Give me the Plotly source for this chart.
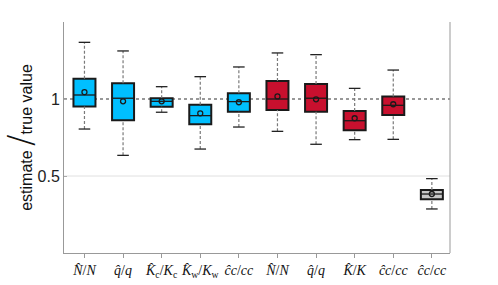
import plotly.graph_objects as go

labels = ["<i>N̂</i>/<i>N</i>", "<i>q̂</i>/<i>q</i>", "<i>K̂</i><sub>c</sub>/<i>K</i><sub>c</sub>",
          "<i>K̂</i><sub>w</sub>/<i>K</i><sub>w</sub>", "<i>ĉc</i>/<i>cc</i>",
          "<i>N̂</i>/<i>N</i>", "<i>q̂</i>/<i>q</i>", "<i>K̂</i>/<i>K</i>", "<i>ĉc</i>/<i>cc</i>", "<i>ĉc</i>/<i>cc</i>"]
positions = [1, 2, 3, 4, 5, 6, 7, 8, 9, 10]
whisk_lo = [0.805, 0.634, 0.914, 0.675, 0.818, 0.790, 0.706, 0.736, 0.738, 0.286]
q1 =       [0.952, 0.862, 0.950, 0.836, 0.918, 0.929, 0.918, 0.797, 0.896, 0.349]
median =   [1.026, 1.005, 0.985, 0.892, 0.983, 1.000, 1.005, 0.859, 0.959, 0.383]
q3 =       [1.132, 1.102, 1.005, 0.963, 1.037, 1.117, 1.097, 0.922, 1.017, 0.409]
whisk_hi = [1.368, 1.312, 1.080, 1.145, 1.208, 1.299, 1.288, 1.069, 1.188, 0.483]
means =    [1.045, 0.985, 0.985, 0.907, 0.979, 1.017, 0.998, 0.875, 0.966, 0.383]
colors = ["#00BFFF"] * 5 + ["#C8102E"] * 4 + ["#C8C8C8"]

BOXW = 0.57
CAPH = 0.15
MEDH = BOXW / 2

fig = go.Figure()

# whiskers (dashed)
wx, wy = [], []
for p, lo, a, b, hi in zip(positions, whisk_lo, q1, q3, whisk_hi):
    wx += [p, p, None, p, p, None]
    wy += [lo, a, None, b, hi, None]
fig.add_trace(go.Scatter(x=wx, y=wy, mode="lines",
                         line=dict(color="#7a7a7a", width=1.2, dash="3px,2px"),
                         hoverinfo="skip", showlegend=False))
# caps
cx, cy = [], []
for p, lo, hi in zip(positions, whisk_lo, whisk_hi):
    cx += [p - CAPH, p + CAPH, None, p - CAPH, p + CAPH, None]
    cy += [lo, lo, None, hi, hi, None]
fig.add_trace(go.Scatter(x=cx, y=cy, mode="lines",
                         line=dict(color="#222222", width=1.3),
                         hoverinfo="skip", showlegend=False))
# boxes
fig.add_trace(go.Bar(x=positions, base=q1, y=[b - a for a, b in zip(q1, q3)],
                     width=BOXW, marker=dict(color=colors, line=dict(color="#1a1a1a", width=2)),
                     hoverinfo="skip", showlegend=False))
# medians
mx, my = [], []
for p, m in zip(positions, median):
    mx += [p - MEDH, p + MEDH, None]
    my += [m, m, None]
fig.add_trace(go.Scatter(x=mx, y=my, mode="lines",
                         line=dict(color="#1a1a1a", width=1.3),
                         hoverinfo="skip", showlegend=False))
# means
fig.add_trace(go.Scatter(x=positions, y=means, mode="markers",
                         marker=dict(symbol="circle-open", size=5, color="#1a1a1a", line=dict(width=1.3)),
                         hoverinfo="skip", showlegend=False))

fig.add_shape(type="line", xref="paper", x0=0, x1=1, yref="y", y0=1, y1=1,
              line=dict(color="#777777", width=1.3, dash="dot"), layer="below")
fig.add_shape(type="line", xref="paper", x0=0, x1=1, yref="y", y0=0.5, y1=0.5,
              line=dict(color="#e0e0e0", width=1), layer="below")

fig.update_layout(
    width=498, height=285,
    margin=dict(l=64, r=48, t=22, b=32, autoexpand=False),
    paper_bgcolor="white", plot_bgcolor="white",
    barmode="overlay",
    xaxis=dict(range=[0.47, 10.47], tickvals=positions, ticktext=labels, automargin=False,
               tickangle=0,
               showline=True, linecolor="#999999", linewidth=1, mirror=False,
               ticks="outside", ticklen=4, tickcolor="#999999", showgrid=False, zeroline=False,
               tickfont=dict(family="Liberation Serif", size=14, color="#111111")),
    yaxis=dict(range=[0, 1.5], tickvals=[0.5, 1], ticktext=["0.5", "1"], automargin=False,
               showline=True, linecolor="#999999", linewidth=1,
               ticks="inside", ticklen=3, tickcolor="#aaaaaa", showgrid=False, zeroline=False,
               tickfont=dict(family="Liberation Sans", size=16, color="#222222"),
               title=dict(text="estimate <span style='font-size:34px;font-family:DejaVu Sans;font-weight:200'>/</span>true value",
                          font=dict(family="Liberation Sans", size=16, color="#111111"),
                          standoff=18)),
)
fig.add_shape(type="line", xref="paper", yref="paper", x0=1, x1=1, y0=0, y1=1,
              line=dict(color="#999999", width=1))

fig.write_html("out.html", config={"displayModeBar": False},
               post_script="document.body.style.margin='0';document.body.style.overflow='hidden';")
